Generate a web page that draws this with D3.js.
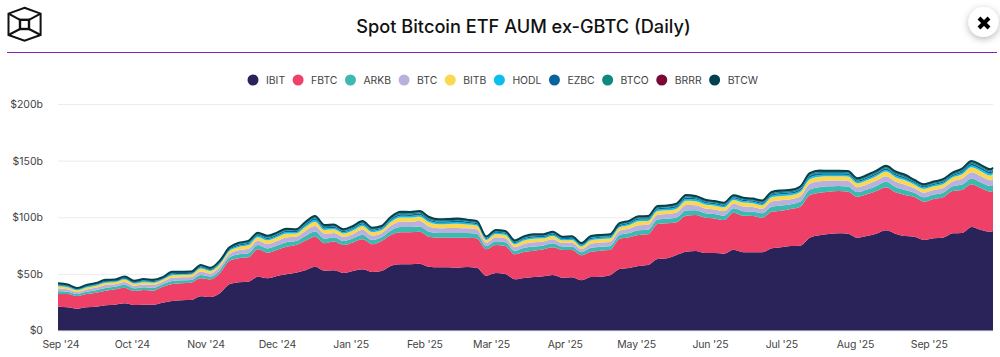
<!DOCTYPE html>
<html>
<head>
<meta charset="utf-8">
<script src="https://cdn.jsdelivr.net/npm/d3@7"></script>
<style>
  html, body { margin: 0; padding: 0; background: #fff; overflow: hidden; }
  svg { display: block; font-family: Inter, "Noto Sans", sans-serif; }
</style>
</head>
<body>
<div id="chart"></div>
<script>
// sample dates read along the x axis (roughly every 4 days)
const dates = [
  "2024-08-31","2024-09-04","2024-09-08","2024-09-12","2024-09-16","2024-09-20","2024-09-24","2024-09-28","2024-10-02","2024-10-06",
  "2024-10-10","2024-10-14","2024-10-18","2024-10-22","2024-10-26","2024-10-30","2024-11-03","2024-11-07","2024-11-11","2024-11-15",
  "2024-11-19","2024-11-23","2024-11-27","2024-12-01","2024-12-05","2024-12-09","2024-12-13","2024-12-17","2024-12-21","2024-12-25",
  "2024-12-29","2025-01-02","2025-01-06","2025-01-10","2025-01-14","2025-01-18","2025-01-22","2025-01-26","2025-01-30","2025-02-03",
  "2025-02-07","2025-02-11","2025-02-15","2025-02-19","2025-02-23","2025-02-27","2025-03-03","2025-03-07","2025-03-11","2025-03-15",
  "2025-03-19","2025-03-23","2025-03-27","2025-03-31","2025-04-04","2025-04-08","2025-04-12","2025-04-16","2025-04-20","2025-04-24",
  "2025-04-28","2025-05-02","2025-05-06","2025-05-10","2025-05-14","2025-05-18","2025-05-22","2025-05-26","2025-05-30","2025-06-03",
  "2025-06-07","2025-06-11","2025-06-15","2025-06-19","2025-06-23","2025-06-27","2025-07-01","2025-07-05","2025-07-09","2025-07-13",
  "2025-07-17","2025-07-21","2025-07-25","2025-07-29","2025-08-02","2025-08-06","2025-08-10","2025-08-14","2025-08-18","2025-08-22",
  "2025-08-26","2025-08-30","2025-09-03","2025-09-07","2025-09-11","2025-09-15","2025-09-19","2025-09-23","2025-09-27","2025-09-28"
];

// AUM per fund, $ billions
const IBIT = [
  21.0,20.5,19.2,20.5,21.0,22.3,22.8,24.0,22.5,22.8,
  22.8,24.5,26.0,26.7,26.9,30.2,29.5,32.8,40.8,42.6,
  43.1,47.5,46.1,48.1,49.6,51.0,53.2,56.3,52.8,53.2,
  50.8,52.5,54.0,51.7,52.5,57.2,58.5,58.5,59.0,56.3,
  55.8,55.8,55.5,56.1,55.5,48.4,50.8,49.9,45.2,46.4,
  47.2,47.9,49.0,46.6,47.0,44.3,47.2,47.5,48.7,54.3,
  55.2,57.0,57.8,63.1,63.8,66.7,69.6,70.2,68.4,68.4,
  67.8,71.3,69.1,69.1,69.1,72.6,73.5,74.6,74.9,81.9,
  84.1,85.2,85.8,85.5,81.9,83.4,85.5,88.5,85.5,83.4,
  82.8,79.9,81.4,81.9,85.8,86.1,91.4,88.7,87.2,87.9
];
const FBTC = [
  11.2,11.7,11.2,11.7,12.4,12.9,13.6,13.8,12.4,13.0,
  12.4,14.1,15.0,15.0,15.3,15.9,15.6,17.7,20.6,21.2,
  21.5,24.2,22.6,23.0,24.4,24.5,26.1,26.5,24.2,25.3,
  24.7,25.3,26.5,24.5,26.5,27.1,28.3,28.3,28.3,26.5,
  26.1,26.1,26.5,25.9,26.0,23.3,24.7,24.7,22.1,23.2,
  23.2,23.8,24.5,24.5,24.1,22.1,22.3,23.0,22.3,26.5,
  27.1,27.4,27.1,30.9,30.9,28.9,31.8,31.8,31.2,30.6,
  29.8,32.7,32.3,32.1,30.6,32.3,32.3,32.7,34.4,37.7,
  37.6,37.4,37.4,37.1,36.2,36.8,37.7,38.0,36.6,36.2,
  35.0,33.8,34.7,35.7,37.4,38.0,37.7,36.8,35.3,35.6
];
const ARKB = [
  2.4,2.1,1.8,2.0,2.2,2.4,2.2,2.5,2.3,2.4,
  2.4,2.2,2.7,2.6,2.5,3.0,2.6,2.8,3.0,3.5,
  3.7,3.7,3.8,3.9,4.0,3.5,4.2,4.6,4.1,3.8,
  3.5,3.7,4.1,3.7,3.4,4.1,4.5,4.5,4.6,4.4,
  4.1,4.2,4.2,4.0,3.9,2.9,3.4,3.4,3.1,3.5,
  3.7,3.4,3.5,3.0,3.1,2.7,3.5,3.5,3.5,3.5,
  3.7,4.2,4.1,4.0,4.0,4.2,4.6,4.2,4.0,3.9,
  3.9,3.9,4.0,3.9,3.8,4.4,4.5,4.2,4.5,4.9,
  4.9,4.7,4.5,4.6,4.1,4.3,4.5,4.8,4.6,4.5,
  3.8,3.9,3.9,4.0,4.1,4.8,5.2,5.2,5.0,5.2
];
const BTC = [
  2.4,2.2,1.8,2.1,2.2,2.5,2.3,2.6,2.4,2.5,
  2.5,2.2,2.8,2.7,2.6,3.1,2.7,2.9,3.1,3.6,
  3.8,3.9,3.9,4.0,4.2,3.7,4.4,4.8,4.3,3.9,
  3.7,3.8,4.3,3.9,3.5,4.3,4.7,4.7,4.8,4.6,
  4.3,4.4,4.4,4.2,4.0,3.0,3.5,3.5,3.2,3.6,
  3.8,3.5,3.6,3.1,3.2,2.8,3.7,3.7,3.7,3.7,
  3.8,4.4,4.3,4.2,4.1,4.3,4.8,4.4,4.2,4.0,
  4.0,4.1,4.2,4.0,3.9,4.6,4.7,4.4,4.7,5.0,
  5.1,4.9,4.7,4.8,4.3,4.5,4.7,5.0,4.8,4.7,
  4.0,4.1,4.0,4.2,4.3,5.0,5.4,5.4,5.2,5.4
];
const BITB = [
  2.0,1.8,1.5,1.7,1.8,2.0,1.8,2.1,1.9,2.0,
  2.0,1.8,2.3,2.2,2.1,2.5,2.2,2.3,2.5,2.9,
  3.1,3.1,3.2,3.3,3.4,3.0,3.5,3.9,3.4,3.2,
  3.0,3.1,3.4,3.1,2.8,3.4,3.8,3.8,3.8,3.7,
  3.5,3.5,3.6,3.4,3.3,2.4,2.8,2.8,2.6,2.9,
  3.1,2.8,2.9,2.5,2.6,2.3,3.0,3.0,3.0,3.0,
  3.1,3.5,3.4,3.4,3.3,3.5,3.8,3.6,3.4,3.3,
  3.3,3.3,3.4,3.3,3.2,3.7,3.8,3.6,3.8,4.1,
  4.1,3.9,3.8,3.9,3.5,3.6,3.8,4.0,3.9,3.8,
  3.2,3.3,3.3,3.4,3.4,4.0,4.4,4.4,4.2,4.3
];
const HODL = [
  0.8,0.7,0.6,0.7,0.7,0.8,0.7,0.8,0.7,0.8,
  0.8,0.7,0.9,0.8,0.8,1.0,0.8,0.9,1.0,1.1,
  1.2,1.2,1.2,1.2,1.3,1.1,1.3,1.5,1.3,1.2,
  1.1,1.2,1.3,1.2,1.1,1.3,1.5,1.4,1.5,1.4,
  1.3,1.3,1.4,1.3,1.2,0.9,1.1,1.1,1.0,1.1,
  1.2,1.1,1.1,0.9,1.0,0.9,1.1,1.1,1.1,1.1,
  1.2,1.3,1.3,1.3,1.3,1.3,1.5,1.4,1.3,1.2,
  1.2,1.2,1.3,1.2,1.2,1.4,1.4,1.4,1.4,1.6,
  1.6,1.5,1.4,1.5,1.3,1.4,1.4,1.5,1.5,1.4,
  1.2,1.2,1.2,1.3,1.3,1.5,1.7,1.7,1.6,1.6
];
const EZBC = [
  0.7,0.6,0.5,0.6,0.6,0.7,0.6,0.7,0.6,0.7,
  0.7,0.6,0.8,0.7,0.7,0.8,0.7,0.8,0.8,1.0,
  1.0,1.0,1.1,1.1,1.1,1.0,1.2,1.3,1.1,1.1,
  1.0,1.0,1.1,1.0,0.9,1.1,1.3,1.3,1.3,1.2,
  1.2,1.2,1.2,1.1,1.1,0.8,0.9,0.9,0.9,1.0,
  1.0,0.9,1.0,0.8,0.9,0.8,1.0,1.0,1.0,1.0,
  1.0,1.2,1.1,1.1,1.1,1.2,1.3,1.2,1.1,1.1,
  1.1,1.1,1.1,1.1,1.1,1.2,1.3,1.2,1.3,1.4,
  1.4,1.3,1.3,1.3,1.2,1.2,1.3,1.3,1.3,1.3,
  1.1,1.1,1.1,1.1,1.1,1.3,1.5,1.5,1.4,1.4
];
const BTCO = [
  0.6,0.5,0.4,0.5,0.5,0.6,0.5,0.6,0.5,0.6,
  0.6,0.5,0.7,0.6,0.6,0.7,0.6,0.7,0.7,0.8,
  0.9,0.9,0.9,0.9,1.0,0.8,1.0,1.1,1.0,0.9,
  0.8,0.9,1.0,0.9,0.8,1.0,1.1,1.1,1.1,1.1,
  1.0,1.0,1.0,1.0,0.9,0.7,0.8,0.8,0.7,0.8,
  0.9,0.8,0.8,0.7,0.7,0.7,0.8,0.8,0.8,0.8,
  0.9,1.0,1.0,1.0,0.9,1.0,1.1,1.0,1.0,0.9,
  0.9,0.9,1.0,0.9,0.9,1.1,1.1,1.0,1.1,1.2,
  1.2,1.1,1.1,1.1,1.0,1.0,1.1,1.1,1.1,1.1,
  0.9,0.9,0.9,1.0,1.0,1.1,1.2,1.2,1.2,1.2
];
const BRRR = [
  0.1,0.1,0.1,0.1,0.1,0.1,0.1,0.1,0.1,0.1,
  0.1,0.1,0.1,0.1,0.1,0.1,0.1,0.1,0.1,0.1,
  0.1,0.1,0.1,0.1,0.1,0.1,0.1,0.2,0.1,0.1,
  0.1,0.1,0.1,0.1,0.1,0.1,0.2,0.2,0.2,0.1,
  0.1,0.1,0.1,0.1,0.1,0.1,0.1,0.1,0.1,0.1,
  0.1,0.1,0.1,0.1,0.1,0.1,0.1,0.1,0.1,0.1,
  0.1,0.1,0.1,0.1,0.1,0.1,0.2,0.1,0.1,0.1,
  0.1,0.1,0.1,0.1,0.1,0.2,0.2,0.2,0.2,0.2,
  0.2,0.2,0.2,0.2,0.2,0.2,0.2,0.2,0.2,0.2,
  0.1,0.2,0.2,0.2,0.2,0.2,0.2,0.2,0.2,0.2
];
const BTCW = [
  0.5,0.4,0.4,0.4,0.4,0.5,0.4,0.5,0.5,0.5,
  0.5,0.4,0.5,0.5,0.5,0.6,0.5,0.6,0.6,0.7,
  0.7,0.7,0.8,0.8,0.8,0.7,0.8,0.9,0.8,0.8,
  0.7,0.7,0.8,0.7,0.7,0.8,0.9,0.9,0.9,0.9,
  0.8,0.8,0.9,0.8,0.8,0.6,0.7,0.7,0.6,0.7,
  0.7,0.7,0.7,0.6,0.6,0.5,0.7,0.7,0.7,0.7,
  0.7,0.8,0.8,0.8,0.8,0.8,0.9,0.9,0.8,0.8,
  0.8,0.8,0.8,0.8,0.8,0.9,0.9,0.9,0.9,1.0,
  1.0,0.9,0.9,0.9,0.8,0.9,0.9,1.0,0.9,0.9,
  0.8,0.8,0.8,0.8,0.8,1.0,1.0,1.0,1.0,1.0
];

const funds = ["IBIT", "FBTC", "ARKB", "BTC", "BITB", "HODL", "EZBC", "BTCO", "BRRR", "BTCW"];
const colors = ["#2a2359", "#ef4068", "#3dbaaf", "#b9b0df", "#fbd850", "#08bfee", "#06639e", "#0e8a7d", "#7a0738", "#02424e"];
const yTicks = [0, 50, 100, 150, 200];
const monthTicks = ["2024-09-01","2024-10-01","2024-11-01","2024-12-01","2025-01-01","2025-02-01","2025-03-01","2025-04-01","2025-05-01","2025-06-01","2025-07-01","2025-08-01","2025-09-01"];

const width = 1000, height = 357;
const parse = d3.utcParse("%Y-%m-%d");

const rows = dates.map((d, i) => ({
  date: parse(d),
  IBIT: IBIT[i], FBTC: FBTC[i], ARKB: ARKB[i], BTC: BTC[i], BITB: BITB[i],
  HODL: HODL[i], EZBC: EZBC[i], BTCO: BTCO[i], BRRR: BRRR[i], BTCW: BTCW[i]
}));

const svg = d3.select("#chart").append("svg")
  .attr("width", width)
  .attr("height", height);

const defs = svg.append("defs");
const shadow = defs.append("filter").attr("id", "shadow")
  .attr("x", "-50%").attr("y", "-50%").attr("width", "200%").attr("height", "200%");
shadow.append("feDropShadow")
  .attr("dx", 0).attr("dy", 2).attr("stdDeviation", 3.5)
  .attr("flood-color", "#000").attr("flood-opacity", 0.3);

const x = d3.scaleUtc()
  .domain(d3.extent(rows, d => d.date))
  .range([58, 993]);

const y = d3.scaleLinear()
  .domain([0, 200])
  .range([330.5, 104]);

// Grid + y axis
const yAxis = svg.append("g")
  .attr("transform", "translate(58,0)")
  .call(d3.axisLeft(y).tickValues(yTicks).tickSize(0).tickPadding(15).tickFormat(d => `$${d === 0 ? 0 : d + "b"}`));
yAxis.select(".domain").remove();
yAxis.selectAll("text")
  .attr("font-size", 10.5)
  .attr("font-family", "Inter, sans-serif")
  .attr("fill", "#444");
yAxis.selectAll("line")
  .attr("x2", 935)
  .attr("stroke", "#ececec");

// Stacked areas
const stacked = d3.stack().keys(funds)(rows);

const area = d3.area()
  .x(d => x(d.data.date))
  .y0(d => y(d[0]))
  .y1(d => y(d[1]))
  .curve(d3.curveMonotoneX);

svg.selectAll("path.layer")
  .data(stacked)
  .enter().append("path")
  .attr("class", "layer")
  .attr("d", area)
  .attr("fill", (d, i) => colors[i]);

// dark outline along the top of the last layer
const topLine = d3.line()
  .x(d => x(d.data.date))
  .y(d => y(d[1]))
  .curve(d3.curveMonotoneX);

svg.append("path")
  .attr("d", topLine(stacked[stacked.length - 1]))
  .attr("fill", "none")
  .attr("stroke", colors[9])
  .attr("stroke-width", 2);

// X axis
const xAxis = svg.append("g")
  .attr("transform", "translate(0,330.5)")
  .call(d3.axisBottom(x).tickValues(monthTicks.map(parse)).tickSize(0).tickPadding(10)
    .tickFormat(d3.utcFormat("%b '%y")));
xAxis.select(".domain").remove();
xAxis.selectAll("text")
  .attr("font-size", 10.5)
  .attr("letter-spacing", -0.2)
  .attr("font-family", "Inter, sans-serif")
  .attr("fill", "#444");

// Title and rule
svg.append("text")
  .attr("x", 523.5)
  .attr("y", 33)
  .attr("text-anchor", "middle")
  .attr("font-size", 18.2)
  .attr("font-weight", 500)
  .attr("fill", "#111")
  .text("Spot Bitcoin ETF AUM ex-GBTC (Daily)");

svg.append("line")
  .attr("x1", 7).attr("x2", 997)
  .attr("y1", 52.5).attr("y2", 52.5)
  .attr("stroke", "#8e1fb8")
  .attr("stroke-width", 1);

// Legend
let cursor = 253;
funds.forEach((name, i) => {
  svg.append("circle")
    .attr("cx", cursor).attr("cy", 80).attr("r", 5.5)
    .attr("fill", colors[i]);
  const label = svg.append("text")
    .attr("x", cursor + 13)
    .attr("y", 80)
    .attr("dy", "0.36em")
    .attr("font-size", 10.4)
    .attr("fill", "#444")
    .text(name);
  cursor += 13 + label.node().getComputedTextLength() + 13;
});

// Logo
const logo = svg.append("g")
  .attr("fill", "none")
  .attr("stroke", "#111")
  .attr("stroke-width", 2);
logo.append("path").attr("d", "M24.5,7.8 L40.6,13.6 L40.6,35 L24.5,40.8 L8.5,35 L8.5,13.6 Z");
logo.append("path").attr("d", "M8.5,13.6 L20,19.8 M40.6,13.6 L29,19.8 M8.5,35 L20,29 M40.6,35 L29,29");
logo.append("rect").attr("x", 20).attr("y", 19.8).attr("width", 9).attr("height", 9.2).attr("stroke-width", 2.4);

// Close button
svg.append("circle")
  .attr("cx", 983.5).attr("cy", 22).attr("r", 15)
  .attr("fill", "#fff")
  .attr("filter", "url(#shadow)");
svg.append("path")
  .attr("d", "M979,18 L989,28 M989,18 L979,28")
  .attr("stroke", "#000")
  .attr("stroke-width", 4);
</script>
</body>
</html>
